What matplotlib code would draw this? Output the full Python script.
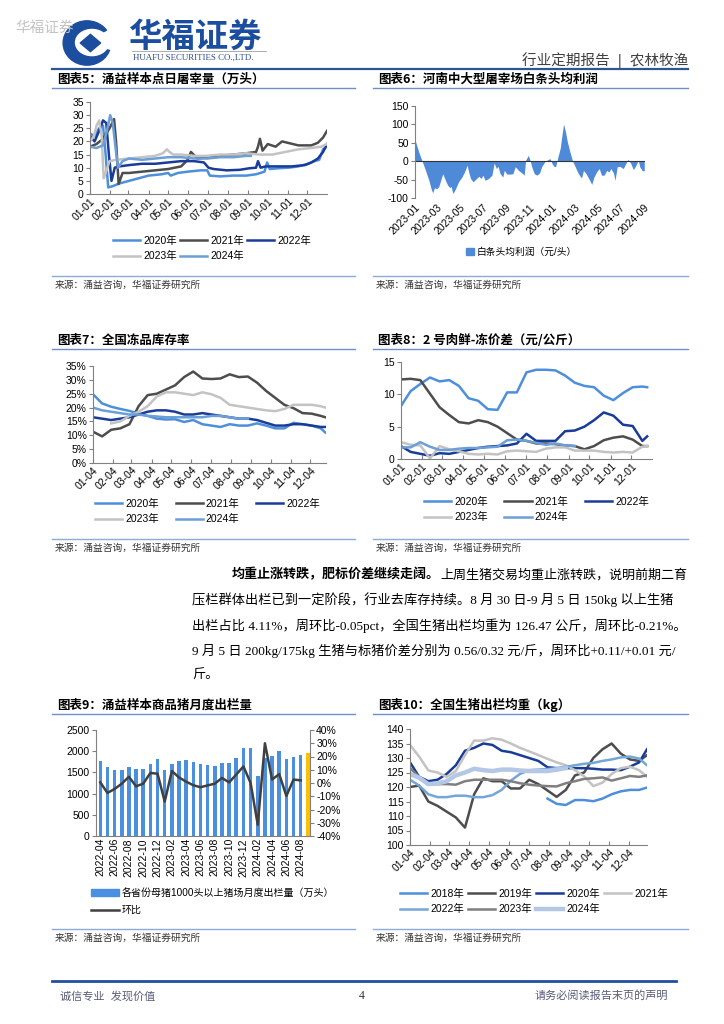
import matplotlib
matplotlib.use('Agg')
import matplotlib.pyplot as plt
from matplotlib.lines import Line2D
from matplotlib.patches import Ellipse, Polygon, Wedge, Patch
from matplotlib.ticker import PercentFormatter
import numpy as np
import pandas as pd

plt.rcParams['font.family'] = ['Liberation Sans', 'Noto Sans CJK SC']
plt.rcParams['axes.unicode_minus'] = False

nan = np.nan

# ---------------- data ----------------
# chart 5: daily slaughter (万头), day of year -> value
d5_2020 = [0, 7, 14, 20, 24, 28, 35, 45, 60, 75, 90, 110, 120, 124, 135, 150, 170, 180, 184, 200,
           220, 240, 255, 268, 272, 276, 290, 305, 320, 335, 345, 352, 358, 364]
v5_2020 = [23, 22, 25, 26, 15, 2.5, 3, 4, 5, 6, 7, 7.5, 8, 7, 8, 8.5, 9, 9, 7, 6.7,
           7, 7, 7.5, 8.5, 12, 9.5, 9.8, 10, 10.5, 11.5, 12.5, 13, 17, 18]
d5_2021 = [0, 10, 20, 30, 37, 40, 44, 50, 60, 80, 100, 120, 140, 150, 155, 165, 180, 200, 220, 240,
           255, 258, 261, 265, 273, 285, 295, 320, 340, 350, 358, 364]
v5_2021 = [18, 19, 21, 25, 28.5, 20, 3.8, 8, 8, 8.5, 9, 9.5, 10.5, 13, 16, 13.5, 14, 14.5, 15, 15.5,
           16, 18, 21, 16.5, 19, 18, 20, 18.5, 18.5, 19.5, 21.5, 24]
d5_2022 = [0, 7, 14, 20, 25, 29, 33, 38, 45, 60, 80, 100, 120, 140, 160, 175, 182, 190, 210, 230,
           245, 255, 258, 262, 270, 290, 310, 330, 340, 350, 358, 364]
v5_2022 = [22, 20, 24, 28, 27, 15, 5, 10, 10.5, 11, 11.5, 11.5, 12, 12.5, 12.5, 12, 10, 9.5, 9, 9.2,
           9.8, 10, 12.5, 10, 10.5, 10.5, 10.5, 11, 12, 13.5, 16, 19]
d5_2023 = [0, 6, 10, 14, 18, 21, 24, 30, 40, 60, 80, 100, 112, 118, 122, 128, 140, 160, 180, 200,
           220, 240, 260, 280, 300, 320, 340, 355, 364]
v5_2023 = [20, 22, 26, 28, 22, 6, 8, 12.5, 13, 13.5, 14, 14.5, 15.5, 17, 16, 15, 15, 14.5, 14.5, 15,
           15, 15.5, 15, 15, 16, 17, 17.5, 18, 19]
d5_2024 = [0, 10, 20, 26, 31, 35, 39, 43, 50, 60, 80, 100, 120, 140, 160, 180, 200, 220, 240, 247]
v5_2024 = [18, 17.5, 18.5, 24, 30, 27, 18, 10, 12.5, 13.5, 13, 13.5, 14, 14, 13.5, 13.5, 14, 14, 14.5, 14.5]

# chart 6: Henan carcass profit (元/头), days since 2023-01-01
d6 = [0, 10, 19, 28, 37, 43, 47, 52, 57, 63, 70, 74, 81, 87, 93, 96, 101, 108, 116, 125,
      132, 139, 143, 148, 155, 161, 170, 176, 181, 187, 196, 205, 211, 217, 221, 227, 234, 238, 245, 254,
      261, 267, 276, 285, 291, 295, 302, 307, 311, 318, 325, 332, 338, 347, 356, 360, 365, 371, 375, 381,
      387, 391, 396, 401, 406, 413, 420, 427, 433, 440, 444, 449, 456, 462, 471, 477, 484, 491, 497, 504,
      511, 517, 522, 529, 533, 539, 546, 555, 562, 568, 575, 582, 589, 595, 599, 606, 611]
v6 = [58, 25, 0, -25, -52, -75, -86, -72, -75, -70, -47, -34, -52, -65, -72, -68, -88, -75, -56, -43,
      -29, -11, -29, -47, -56, -50, -41, -47, -38, -52, -47, -38, -5, -20, -14, -34, -43, -25, -35, -35,
      -34, -15, -25, -32, -38, 3, 16, 1, -15, -34, -38, -32, -14, 0, 5, 7, -6, -15, -14, 12,
      35, 66, 101, 80, 53, 25, 0, -15, -29, -41, -45, -25, -34, -45, -63, -43, -29, -20, -38, -38,
      -25, -29, -20, -32, -52, -15, -14, -20, -6, 5, -6, -23, -11, 3, -15, -26, -26]

# chart 7: frozen stock rate (%), every two weeks from 01-04
days7 = list(range(3, 354, 14)) + [360]
v7 = {
    '2020年': [24.8, 21.5, 20.3, 19.5, 18.8, 17.8, 17, 16, 15.7, 15.8, 14.8, 15.5, 14, 13.5, 13, 14, 13.5,
              13.5, 14.3, 13.5, 12.5, 12.5, 14.5, 14, 13.5, 12.5, 11],
    '2021年': [11.3, 9.6, 12, 12.5, 14, 20.5, 24.5, 25, 26.5, 28, 31, 33, 30.5, 30.3, 30.5, 32, 31, 31.2,
              29, 26, 23.5, 21, 19.8, 18, 17.8, 17, 16.5],
    '2022年': [16.5, 16, 15.5, 16, 16.5, 17.5, 18.5, 19, 19, 18.5, 17.5, 17.5, 18, 17.5, 17, 16.5, 16, 16,
              15.5, 14.5, 13.5, 13.5, 14, 14, 13.5, 13, 13],
    '2023年': [13.5, nan, 14.3, 15, 17, 18.5, 20.5, 24, 25.5, 25.5, 25, 24.5, 25.5, 24.8, 23.5, 21, 20.5,
              20, 19.5, 19, 18.7, 19.5, 21, 21, 21, 20.5, 20],
    '2024年': [20, 19, 18.5, 18, 17.5, 17.5, 17, 16.8, 16.5, 16.5, 16.5, 16.5, 16.5, 17, 17, 16.5, 16, 16,
              nan, nan, nan, nan, nan, nan, nan, nan, nan],
}

# chart 8: No.2 pork fresh-frozen spread (元/公斤), every two weeks from 01-01
days8 = list(range(0, 351, 14)) + [357]
v8 = {
    '2020年': [8.2, 10.5, 11.6, 12.6, 12.0, 12.2, 11.3, 9.4, 9.0, 7.7, 7.6, 10.3, 10.3, 13.4, 13.8, 13.8,
              13.7, 12.9, 11.8, 11.3, 11.1, 9.8, 9.1, 10.2, 11.1, 11.2, 11.1],
    '2021年': [12.3, 12.4, 12.2, 10.1, 8.0, 6.8, 5.7, 5.5, 6.0, 5.7, 5.0, 4.0, 3.0, 2.8, 2.4, 2.4, 2.3,
              2.1, 2.0, 1.5, 2.0, 2.9, 3.3, 3.5, 3.0, 2.0, 2.0],
    '2022年': [2.0, 1.1, 0.8, 0.5, 0.9, 0.8, 1.1, 1.4, 1.7, 1.9, 2.0, 2.1, 2.4, 3.9, 2.8, 2.8, 2.8, 4.3,
              4.4, 5.0, 6.0, 7.2, 6.7, 5.3, 5.1, 2.8, 3.5],
    '2023年': [2.6, 2.2, 2.1, 0.1, 2.0, 1.5, 1.2, 0.8, 0.7, 0.8, 0.7, 1.2, 1.3, 1.2, 1.1, 1.6, 1.8, 1.8,
              1.3, 1.3, 1.3, 1.1, 1.0, 1.1, 1.0, 1.9, 2.0],
    '2024年': [1.8, 1.8, 2.6, 1.9, 1.4, 1.4, 1.6, 1.7, 1.7, 1.8, 1.9, 2.9, 3.0, 2.8, 2.5, 2.2, 2.4, 2.1,
              2.0, nan, nan, nan, nan, nan, nan, nan, nan],
}

# chart 9: monthly sales of farms >1000 sows (万头) and MoM (%)
months9 = pd.period_range('2022-04', '2024-09', freq='M').strftime('%Y-%m').tolist()
sales9 = [1760, 1625, 1553, 1545, 1617, 1577, 1569, 1688, 1806, 1553, 1695, 1766, 1782, 1751, 1695,
          1664, 1656, 1719, 1727, 1837, 2066, 2066, 1412, 1837, 1885, 2011, 1814, 1861, 1908, 1964]
mom9 = [0.5, -7.5, -4.5, -0.5, 4.7, -2.5, -0.5, 7.6, 7.0, -14.0, 9.0, 4.2, 1.0, -1.7, -3.2,
        -1.8, -0.5, 3.8, 0.5, 6.4, 12.5, 0.0, -31.5, 30.0, 2.6, 6.7, -9.8, 2.6, 2.0]

# chart 10: national average slaughter weight (kg), every two weeks from 01-04
days10 = list(range(3, 354, 14)) + [365]
v10 = {
    '2018年': [nan] * 15 + [116, 114.2, 113.8, 115.5, 115.5, 115.1, 116, 117.5, 118.5, 119, 119, 119.8],
    '2019年': [120, 120.5, 115, 113.5, 111.5, 109.5, 106, 117.5, 123, 122, 122, 119.5, 119.5, 122.5, 121,
              118.8, 116.6, 119, 124, 125, 130, 133, 135, 131.5, 129.5, 129, 131],
    '2020年': [128.5, 123.5, 122, 122.5, 124.5, 127.5, 132.5, 133.5, 135, 134.5, 132.5, 132, 131, 130, 129,
              126.8, 126.5, 126.5, 126.5, 126.5, 126.3, 126, 126, 125.8, 127, 128.5, 133],
    '2021年': [134.5, 130.5, 125.7, 125, 123.5, 125.5, 131, 136, 136, 136.8, 136.3, 135, 133.5, 132.3, 131,
              129.7, 128.5, 127.5, 125.8, 123.7, 120.3, 121.5, 124.5, 126.5, 127, 125.8, 123.5],
    '2022年': [122.5, 120.5, 117.5, 116.5, 116.5, 117, 117, 116.5, 116.5, 117.2, 119, 122.2, 124.5, 125.8,
              126, 126.2, 126.5, 127, 127.5, 128, 128.3, 129, 129.5, 130.2, 130.5, 129.8, 127.5],
    '2023年': [126.5, 123.5, 120.8, 121, 121, 120.8, 122, 122.5, 122.5, 122.5, 122.5, 122, 121.3, 120.8,
              120.5, 120.3, 120.2, 121.3, 122, 122.8, 123, 123.3, 122.2, 123, 123.8, 123.5, 124],
    '2024年': [124.5, 123.2, 121, 121.2, 122, 124, 125, 126.3, 125.8, 125.5, 126, 126, 125.7, 125.5, 125.5,
              125.5, 126, 126.5] + [nan] * 9,
}

month_pos = (pd.date_range('2021-01-01', periods=12, freq='MS').dayofyear - 1).tolist()
labels_01 = ['%02d-01' % m for m in range(1, 13)]
labels_04 = ['%02d-04' % m for m in range(1, 13)]
ticks6 = pd.date_range('2023-01-01', '2024-09-01', freq='2MS')

# ---------------- colours ----------------
MID = '#4E8FDB'
DARK = '#4D4D4D'
NAVY = '#1A3C99'
LGRAY = '#C3C3C3'
BLUE24 = '#6B9FD6'
year_colors = {'2020年': MID, '2021年': DARK, '2022年': NAVY, '2023年': LGRAY, '2024年': BLUE24}
colors10 = {'2018年': MID, '2019年': DARK, '2020年': NAVY, '2021年': LGRAY,
            '2022年': '#74A6D8', '2023年': '#7F7F7F', '2024年': '#B4C7E7'}
AXIS = '#808080'
LOGO = '#1B4E9E'
RULE = '#8EAADB'
TICK = 7.5

W, H = 724, 1024
fig = plt.figure(figsize=(W / 100, H / 100), dpi=100)


def box(l, t, r, b):
    return fig.add_axes([l / W, 1 - b / H, (r - l) / W, (b - t) / H])


def hline(x0, x1, y, color, lw):
    fig.add_artist(Line2D([x0 / W, x1 / W], [1 - y / H, 1 - y / H], color=color, lw=lw,
                          transform=fig.transFigure))


def ftext(x, y, s, **kw):
    kw.setdefault('va', 'center')
    return fig.text(x / W, 1 - y / H, s, **kw)


def style(ax):
    for s in ('top', 'right'):
        ax.spines[s].set_visible(False)
    for s in ('left', 'bottom'):
        ax.spines[s].set_color(AXIS)
        ax.spines[s].set_linewidth(0.8)
    ax.tick_params(labelsize=TICK, color=AXIS, length=3, width=0.8, pad=1.5)
    ax.tick_params(axis='x', direction='in')


def xlabels(ax, pos, labels, rot=45):
    ax.set_xticks(pos)
    if rot == 90:
        ax.set_xticklabels(labels, rotation=90, ha='center', va='top')
    else:
        ax.set_xticklabels(labels, rotation=rot, ha='right', rotation_mode='anchor')


def legend(ax, handles, labels, x, y, ncol, **kw):
    opts = dict(loc='upper left', bbox_to_anchor=(x / W, 1 - y / H), bbox_transform=fig.transFigure,
                ncol=ncol, frameon=False, fontsize=7.5, handlelength=2.6, handletextpad=0.3,
                columnspacing=0.5, labelspacing=0.5, borderaxespad=0, borderpad=0)
    opts.update(kw)
    ax.legend(handles, labels, **opts)


def row_major(items, ncol):
    nrow = int(np.ceil(len(items) / ncol))
    out = []
    for c in range(ncol):
        for r in range(nrow):
            i = r * ncol + c
            if i < len(items):
                out.append(items[i])
    return out


# ---------------- page furniture ----------------
ftext(15, 28, '华福证券', fontsize=10.5, color='#C4C4C4')
lax = fig.add_axes([62 / W, 1 - 68 / H, 50 / W, 50 / H])
lax.set_xlim(-1.1, 1.1)
lax.set_ylim(-1.1, 1.1)
lax.set_aspect('equal')
lax.axis('off')
lax.add_patch(Ellipse((0, 0), 2.1, 1.95, color=LOGO))
lax.add_patch(Ellipse((0.22, 0.02), 1.45, 1.15, color='white'))
lax.add_patch(Wedge((0, 0), 1.2, -15, 30, color='white'))
lax.add_patch(Polygon([[-0.3, 0.0], [0.15, 0.38], [0.6, 0.0], [0.15, -0.38]], color=LOGO))
ftext(128, 37, '华福证券', fontsize=24, weight='bold', color=LOGO, family=['Noto Sans CJK SC'])
hline(132, 266, 51, '#A0A0A0', 0.6)
ftext(133, 58, 'HUAFU SECURITIES CO.,LTD.', fontsize=6.4, color='#2B4A8B', family=['Liberation Serif'])
ftext(688, 60, '行业定期报告  |  农林牧渔', fontsize=10.5, color='#404040', ha='right')
hline(52, 688, 69, '#2F5597', 1.6)

titles = [(57, 79, '图表5：涌益样本点日屠宰量（万头）'), (378, 79, '图表6：河南中大型屠宰场白条头均利润'),
          (57, 340, '图表7：全国冻品库存率'), (378, 340, '图表8：2 号肉鲜-冻价差（元/公斤）'),
          (57, 705, '图表9：涌益样本商品猪月度出栏量'), (378, 705, '图表10：全国生猪出栏均重（kg）')]
for x, y, s in titles:
    ftext(x, y, s, fontsize=9, weight='bold', family=['Noto Sans CJK SC'])
for y in (88, 349, 714):
    hline(52, 355, y, '#6F8FC8', 1.0)
    hline(373, 688, y, '#6F8FC8', 1.0)
for y in (276, 539, 929):
    hline(52, 355, y, RULE, 1.0)
    hline(373, 688, y, RULE, 1.0)
    ftext(55, y + 9, '来源：涌益咨询，华福证券研究所', fontsize=7, color='#333333')
    ftext(376, y + 9, '来源：涌益咨询，华福证券研究所', fontsize=7, color='#333333')

hline(52, 676, 981, '#1F4E9E', 2.0)
ftext(60, 996, '诚信专业  发现价值', fontsize=8, color='#5A5A7A')
ftext(362, 996, '4', fontsize=8.5, color='#333333', ha='center', family=['Liberation Serif'])
ftext(668, 996, '请务必阅读报告末页的声明', fontsize=8, color='#5A5A7A', ha='right')

# ---------------- paragraph ----------------
body_font = ['Liberation Serif', 'Noto Sans CJK SC']
t1 = ftext(232, 575, '均重止涨转跌，肥标价差继续走阔。', fontsize=9.4, weight='bold', family=body_font)
fig.canvas.draw()
bb = t1.get_window_extent(fig.canvas.get_renderer())
fig.text(bb.x1 / fig.bbox.width, 1 - 575 / H, '上周生猪交易均重止涨转跌，说明前期二育',
         fontsize=9.4, family=body_font, va='center')
body = ['压栏群体出栏已到一定阶段，行业去库存持续。8 月 30 日-9 月 5 日 150kg 以上生猪',
        '出栏占比 4.11%，周环比-0.05pct，全国生猪出栏均重为 126.47 公斤，周环比-0.21%。',
        '9 月 5 日 200kg/175kg 生猪与标猪价差分别为 0.56/0.32 元/斤，周环比+0.11/+0.01 元/',
        '斤。']
for i, s in enumerate(body):
    ftext(192, 600 + i * 25.3, s, fontsize=9.5, family=body_font)

# ---------------- chart 5 ----------------
ax5 = box(90, 102, 327, 194)
series5 = [('2020年', d5_2020, v5_2020), ('2021年', d5_2021, v5_2021), ('2022年', d5_2022, v5_2022),
           ('2023年', d5_2023, v5_2023), ('2024年', d5_2024, v5_2024)]
h5 = []
for name, d, v in series5:
    h5.append(ax5.plot(d, v, color=year_colors[name], lw=1.8, label=name)[0])
ax5.set_xlim(0, 364)
ax5.set_ylim(0, 35)
ax5.set_yticks(range(0, 36, 5))
style(ax5)
xlabels(ax5, month_pos, labels_01)
legend(ax5, row_major(h5, 3), row_major([s[0] for s in series5], 3), 113, 236, 3, columnspacing=0.3)

# ---------------- chart 6 ----------------
ax6 = box(415, 106, 645, 198)
ax6.fill_between(d6, v6, 0, color='#4F8AD8', lw=0)
ax6.axhline(0, color='#333333', lw=0.8)
ax6.set_xlim(0, 613)
ax6.set_ylim(-100, 150)
ax6.set_yticks(range(-100, 151, 50))
style(ax6)
ax6.spines['bottom'].set_visible(False)
ax6.tick_params(axis='x', length=0, pad=3)
xlabels(ax6, (ticks6 - pd.Timestamp('2023-01-01')).days, ticks6.strftime('%Y-%m'))
legend(ax6, [Patch(color='#4F8AD8')], ['白条头均利润（元/头）'], 466, 247, 1,
       handlelength=0.8, handleheight=0.8, fontsize=7)

# ---------------- chart 7 ----------------
ax7 = box(93, 366, 326, 463)
h7 = []
for name, v in v7.items():
    h7.append(ax7.plot(days7, v, color=year_colors[name], lw=1.8)[0])
ax7.set_xlim(3, 361)
ax7.set_ylim(0, 35)
ax7.set_yticks(range(0, 36, 5))
ax7.yaxis.set_major_formatter(PercentFormatter(decimals=0))
style(ax7)
xlabels(ax7, [p + 3 for p in month_pos], labels_04)
legend(ax7, row_major(h7, 3), row_major(list(v7), 3), 95, 499, 3, columnspacing=1.6)

# ---------------- chart 8 ----------------
ax8 = box(401, 362, 652, 459)
h8 = []
for name, v in v8.items():
    h8.append(ax8.plot(days8, v, color=year_colors[name], lw=1.8)[0])
ax8.set_xlim(0, 364)
ax8.set_ylim(0, 15)
ax8.set_yticks([0, 5, 10, 15])
style(ax8)
xlabels(ax8, month_pos, labels_01)
legend(ax8, row_major(h8, 3), row_major(list(v8), 3), 424, 497, 3, columnspacing=1.6)

# ---------------- chart 9 ----------------
ax9 = box(96, 730, 310, 836)
x9 = np.arange(len(months9))
bar_colors = ['#4A8FE0'] * (len(months9) - 1) + ['#FFC000']
ax9.bar(x9, sales9, width=0.5, color=bar_colors)
ax9.set_xlim(-0.6, len(months9) - 0.7)
ax9.set_ylim(0, 2500)
ax9.set_yticks(range(0, 2501, 500))
style(ax9)
ax9.tick_params(axis='x', length=0)
xlabels(ax9, x9[::2], months9[::2], rot=90)
ax9r = ax9.twinx()
line9, = ax9r.plot(x9[:len(mom9)], mom9, color='#404040', lw=1.8)
ax9r.set_ylim(-40, 40)
ax9r.set_yticks(range(-40, 41, 10))
ax9r.yaxis.set_major_formatter(PercentFormatter(decimals=0))
for s in ('top', 'left', 'bottom'):
    ax9r.spines[s].set_visible(False)
ax9r.spines['right'].set_color(AXIS)
ax9r.spines['right'].set_linewidth(0.8)
ax9r.tick_params(labelsize=TICK, color=AXIS, length=3, width=0.8, pad=1.5)
legend(ax9r, [Patch(color='#4A8FE0'), line9], ['各省份母猪1000头以上猪场月度出栏量（万头）', '环比'],
       91, 888, 1, handlelength=2.8, labelspacing=0.7, fontsize=7.2)

# ---------------- chart 10 ----------------
ax10 = box(410, 729, 647, 845)
h10 = []
for name, v in v10.items():
    lw = 3.2 if name == '2024年' else 1.8
    h10.append(ax10.plot(days10, v, color=colors10[name], lw=lw)[0])
ax10.set_xlim(3, 365)
ax10.set_ylim(100, 140)
ax10.set_yticks(range(100, 141, 5))
style(ax10)
xlabels(ax10, [p + 3 for p in month_pos], labels_04)
legend(ax10, row_major(h10, 4), row_major(list(v10), 4), 400, 889, 4, columnspacing=0.4)

fig.savefig('out.png', dpi=100)
plt.close(fig)
